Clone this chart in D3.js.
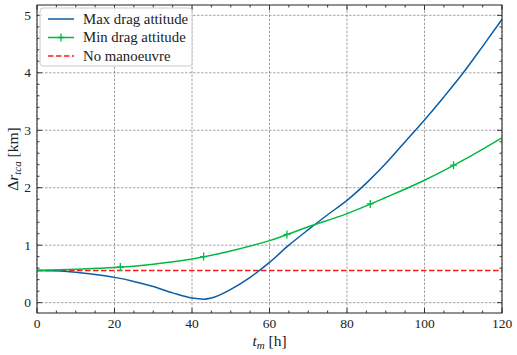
<!DOCTYPE html>
<html>
<head>
<meta charset="utf-8">
<script src="https://d3js.org/d3.v7.min.js"></script>
<style>
body { margin: 0; background: #fff; }
text { font-family: "Liberation Serif", "DejaVu Serif", serif; fill: #222; }
</style>
</head>
<body>
<div id="chart"></div>
<script>
// data
var tMax = [0, 5, 10, 15, 20, 25, 30, 35, 40, 43, 45, 50, 55, 60, 65, 70, 75, 80, 85, 90, 95, 100, 105, 110, 115, 120];
var maxDrag = [0.56, 0.555, 0.53, 0.49, 0.44, 0.37, 0.28, 0.17, 0.08, 0.06, 0.08, 0.23, 0.44, 0.70, 1.0, 1.27, 1.53, 1.78, 2.08, 2.42, 2.80, 3.18, 3.58, 4.0, 4.46, 4.93];
var tMin = [0, 10, 20, 30, 40, 50, 60, 70, 80, 90, 100, 110, 120];
var minDrag = [0.56, 0.58, 0.61, 0.67, 0.76, 0.9, 1.08, 1.32, 1.55, 1.83, 2.13, 2.48, 2.87];
var markerT = [21.5, 43, 64.5, 86, 107.5];
var noManoeuvre = 0.56;
var xTicks = [0, 20, 40, 60, 80, 100, 120];
var yTicks = [0, 1, 2, 3, 4, 5];
var legendLabels = ["Max drag attitude", "Min drag attitude", "No manoeuvre"];

var width = 517, height = 355;
var margin = {left: 37, right: 15, top: 5, bottom: 42};
var blue = "#0C5DA5", green = "#00B945", red = "#ff1a1a";

var svg = d3.select("#chart").append("svg")
	.attr("width", width)
	.attr("height", height);

var x = d3.scaleLinear().domain([0, 120]).range([margin.left, width - margin.right]);
var y = d3.scaleLinear().domain([-0.18, 5.18]).range([height - margin.bottom, margin.top]);

var x0 = x.range()[0], x1 = x.range()[1], y0 = y.range()[0], y1 = y.range()[1];

// grid
var grid = svg.append("g");
grid.selectAll("line.gx").data(xTicks).enter().append("line")
	.attr("x1", function(d) { return x(d); }).attr("x2", function(d) { return x(d); })
	.attr("y1", y0).attr("y2", y1)
	.attr("stroke", "#666").attr("stroke-width", 0.6).attr("stroke-dasharray", "2.5,1.5");
grid.selectAll("line.gy").data(yTicks).enter().append("line")
	.attr("y1", function(d) { return y(d); }).attr("y2", function(d) { return y(d); })
	.attr("x1", x0).attr("x2", x1)
	.attr("stroke", "#666").attr("stroke-width", 0.6).attr("stroke-dasharray", "2.5,1.5");

// lines
var line = d3.line().curve(d3.curveMonotoneX);

svg.append("line")
	.attr("x1", x(0)).attr("x2", x(120))
	.attr("y1", y(noManoeuvre)).attr("y2", y(noManoeuvre))
	.attr("stroke", red).attr("stroke-width", 1.5).attr("stroke-dasharray", "5.5,2.5");

svg.append("path")
	.attr("d", line(tMax.map(function(t, i) { return [x(t), y(maxDrag[i])]; })))
	.attr("fill", "none").attr("stroke", blue).attr("stroke-width", 1.5);

var greenPts = tMin.map(function(t, i) { return [x(t), y(minDrag[i])]; });
svg.append("path")
	.attr("d", line(greenPts))
	.attr("fill", "none").attr("stroke", green).attr("stroke-width", 1.5);

// markers placed on the green curve
var interpMin = function(t) {
	var i = d3.bisectRight(tMin, t) - 1;
	i = Math.max(0, Math.min(i, tMin.length - 2));
	var f = (t - tMin[i]) / (tMin[i + 1] - tMin[i]);
	return minDrag[i] + f * (minDrag[i + 1] - minDrag[i]);
};
markerT.forEach(function(t) {
	var px = x(t), py = y(interpMin(t));
	svg.append("path")
		.attr("d", "M" + (px - 3.5) + "," + py + "H" + (px + 3.5) + "M" + px + "," + (py - 4) + "V" + (py + 4))
		.attr("stroke", green).attr("stroke-width", 1.3);
});

// frame
svg.append("rect")
	.attr("x", x0).attr("y", y1).attr("width", x1 - x0).attr("height", y0 - y1)
	.attr("fill", "none").attr("stroke", "#222").attr("stroke-width", 1);

// inward ticks on all sides
var ticks = svg.append("g").attr("stroke", "#222").attr("stroke-width", 0.9);
var xMinor = d3.range(0, 121, 5);
var yMinor = d3.range(0, 5.01, 0.2);
xMinor.forEach(function(v) {
	var len = (v % 20 === 0) ? 5 : 2.5;
	ticks.append("line").attr("x1", x(v)).attr("x2", x(v)).attr("y1", y0).attr("y2", y0 - len);
	ticks.append("line").attr("x1", x(v)).attr("x2", x(v)).attr("y1", y1).attr("y2", y1 + len);
});
yMinor.forEach(function(v) {
	var major = Math.abs(v - Math.round(v)) < 1e-6;
	var len = major ? 5 : 2.5;
	ticks.append("line").attr("y1", y(v)).attr("y2", y(v)).attr("x1", x0).attr("x2", x0 + len);
	ticks.append("line").attr("y1", y(v)).attr("y2", y(v)).attr("x1", x1).attr("x2", x1 - len);
});

// tick labels
svg.selectAll("text.xt").data(xTicks).enter().append("text")
	.attr("x", function(d) { return x(d); })
	.attr("y", y0 + 15)
	.attr("text-anchor", "middle")
	.attr("font-size", 13.5)
	.text(function(d) { return d; });
svg.selectAll("text.yt").data(yTicks).enter().append("text")
	.attr("x", x0 - 6)
	.attr("y", function(d) { return y(d) + 4.5; })
	.attr("text-anchor", "end")
	.attr("font-size", 13.5)
	.text(function(d) { return d; });

// axis labels
var xl = svg.append("text")
	.attr("x", (x0 + x1) / 2)
	.attr("y", 346)
	.attr("text-anchor", "middle")
	.attr("font-size", 15.5);
xl.append("tspan").attr("font-style", "italic").text("t");
xl.append("tspan").attr("font-style", "italic").attr("font-size", 11).attr("dy", 3).text("m");
xl.append("tspan").attr("dy", -3).text(" [h]");

var yl = svg.append("text")
	.attr("transform", "translate(18," + ((y0 + y1) / 2) + ") rotate(-90)")
	.attr("text-anchor", "middle")
	.attr("font-size", 15.5);
yl.append("tspan").text("Δ");
yl.append("tspan").attr("font-style", "italic").text("r");
yl.append("tspan").attr("font-style", "italic").attr("font-size", 11).attr("dy", 3).text("tca");
yl.append("tspan").attr("dy", -3).text(" [km]");

// legend
var lg = svg.append("g").attr("transform", "translate(40,8)");
lg.append("rect")
	.attr("width", 152).attr("height", 58).attr("rx", 3)
	.attr("fill", "#fff").attr("fill-opacity", 0.85)
	.attr("stroke", "#ccc").attr("stroke-width", 1);
var legColors = [blue, green, red];
legendLabels.forEach(function(lab, i) {
	var ly = 11 + i * 18.5;
	lg.append("line")
		.attr("x1", 8).attr("x2", 34).attr("y1", ly).attr("y2", ly)
		.attr("stroke", legColors[i]).attr("stroke-width", 1.5)
		.attr("stroke-dasharray", i === 2 ? "5.5,2.5" : null);
	if (i === 1) {
		lg.append("path")
			.attr("d", "M17.5," + ly + "H24.5M21," + (ly - 4) + "V" + (ly + 4))
			.attr("stroke", green).attr("stroke-width", 1.3);
	}
	lg.append("text")
		.attr("x", 43).attr("y", ly + 4.5)
		.attr("font-size", 14.8)
		.text(lab);
});
</script>
</body>
</html>
